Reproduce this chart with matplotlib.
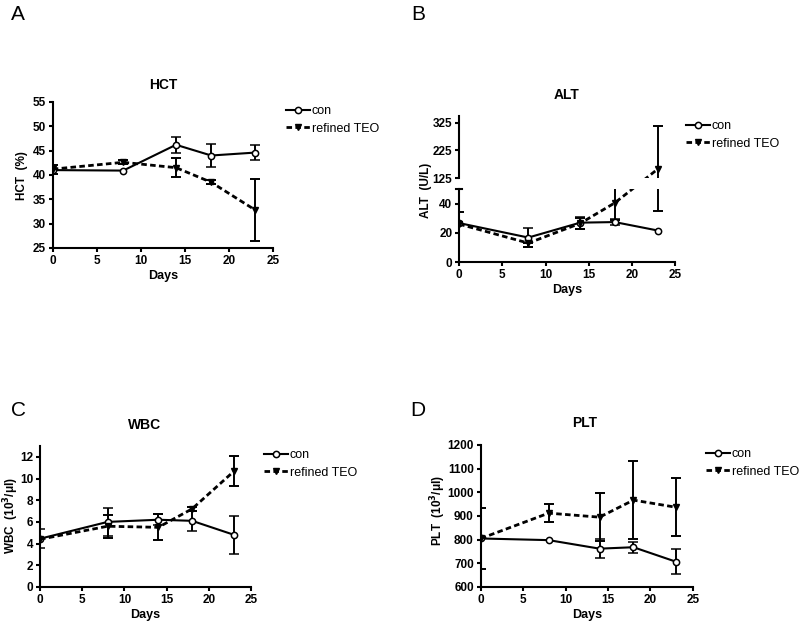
import numpy as np
import matplotlib
matplotlib.use('Agg')
import matplotlib.pyplot as plt
from matplotlib.lines import Line2D

plt.rcParams['font.family'] = ['Liberation Sans', 'DejaVu Sans']
plt.rcParams['font.size'] = 9

days = [0, 8, 14, 18, 23]
nan = np.nan

hct_con     = [41.0, 40.9, 46.2, 44.0, 44.6]
hct_con_err = [nan, nan, 1.6, 2.3, 1.6]
hct_teo     = [41.2, 42.6, 41.5, 38.5, 32.8]
hct_teo_err = [0.9, 0.4, 2.0, 0.4, 6.4]

alt_con     = [26.7, 16.8, 27.0, 27.4, 21.6]
alt_con_err = [nan, 6.5, 4.2, 2.0, nan]
alt_teo     = [26.0, 13.0, 26.5, 40.5, 158.0]
alt_teo_lo  = [0, 3.0, 4.0, 12.0, 123.0]
alt_teo_hi  = [8.0, 0, 4.0, 10.0, 156.0]

wbc_con     = [4.45, 6.0, 6.2, 6.1, 4.8]
wbc_con_err = [0.9, 1.3, 0.5, 0.9, 1.75]
wbc_teo     = [4.4, 5.6, 5.5, 7.2, 10.7]
wbc_teo_err = [nan, 1.05, 1.2, 0.2, 1.4]

plt_con     = [805, 798, 762, 768, 707]
plt_con_err = [nan, nan, 40, 23, 53]
plt_teo     = [805, 912, 895, 967, 937]
plt_teo_err = [128, 38, 101, 165, 123]

DASH = (0, (2.0, 1.2))
fig = plt.figure(figsize=(8, 6.24), dpi=100)


def style(ax, bottom=True):
    for s in ['top', 'right']:
        ax.spines[s].set_visible(False)
    ax.spines['left'].set_linewidth(1.5)
    ax.spines['bottom'].set_linewidth(1.5)
    ax.tick_params(width=1.5, length=3, pad=2, labelsize=8.5)
    for lab in ax.get_xticklabels() + ax.get_yticklabels():
        lab.set_fontweight('bold')
    if not bottom:
        ax.spines['bottom'].set_visible(False)
        ax.tick_params(axis='x', bottom=False, labelbottom=False)


def draw(ax, con, con_err, teo, teo_err, teo_line=True):
    ax.errorbar(days, con, yerr=con_err, color='black', lw=1.5, marker='o', ms=4.5,
                mfc='white', mec='black', mew=1.1, capsize=3.5, capthick=1.4,
                elinewidth=1.4)
    ax.errorbar(days, teo, yerr=teo_err, color='black', lw=2.0,
                ls=DASH if teo_line else 'none',
                marker='v', ms=5, mfc='black', mec='black', capsize=3.5, capthick=1.4,
                elinewidth=1.4)
    ax.set_xlim(0, 25)
    ax.set_xticks([0, 5, 10, 15, 20, 25])


def legend(x, y):
    h = [Line2D([], [], color='black', lw=1.5, marker='o', ms=4.5, mfc='white', mew=1.1),
         Line2D([], [], color='black', lw=2.0, ls=DASH, marker='v', ms=5)]
    fig.legend(h, ['con', 'refined TEO'], loc='upper left', bbox_to_anchor=(x, y),
               frameon=False, handlelength=1.9, handletextpad=0.15, labelspacing=0.45,
               fontsize=9, borderaxespad=0, borderpad=0)


def ylab(text, x, y):
    fig.text(x / 800, 1 - y / 624, text, rotation=90, ha='center', va='center',
             fontsize=8.5, fontweight='bold')


def title(text, x, y):
    fig.text(x / 800, 1 - y / 624, text, ha='center', va='center', fontsize=10,
             fontweight='bold')


# A: HCT
axA = fig.add_axes([0.066, 0.6026, 0.275, 0.234])
draw(axA, hct_con, hct_con_err, hct_teo, hct_teo_err)
axA.set_ylim(25, 55)
axA.set_yticks(range(25, 56, 5))
axA.set_xlabel('Days', fontweight='bold', labelpad=2)
style(axA)
ylab('HCT  (%)', 22, 176)
title('HCT', 163, 85)
legend(286 / 800, 1 - 105 / 624)

# B: ALT (broken axis)
axB = fig.add_axes([0.574, 0.580, 0.27, 0.117])
axBu = fig.add_axes([0.574, 0.7147, 0.27, 0.0994])
brk = 50
for ax in (axB, axBu):
    draw(ax, alt_con, alt_con_err, alt_teo, [alt_teo_lo, alt_teo_hi], teo_line=False)
axB.set_ylim(0, brk)
axB.set_yticks([0, 20, 40])
axBu.set_ylim(125, 350)
axBu.set_yticks([125, 225, 325])
# dashed TEO line drawn straight across the break in screen space
disp = np.array([(axBu if v > brk else axB).transData.transform((d, v))
                 for d, v in zip(days, alt_teo)])
for ax in (axB, axBu):
    p = ax.transData.inverted().transform(disp)
    ax.plot(p[:, 0], p[:, 1], color='black', lw=2.0, ls=DASH)
axB.set_xlabel('Days', fontweight='bold', labelpad=2)
style(axB)
style(axBu, bottom=False)
axB.plot([-0.35, 0.35], [brk, brk], color='black', lw=1.5, clip_on=False)
ylab('ALT  (U/L)', 426, 190)
title('ALT', 567, 95)
legend(686 / 800, 1 - 120 / 624)

# C: WBC
axC = fig.add_axes([0.05, 0.0593, 0.264, 0.226])
draw(axC, wbc_con, wbc_con_err, wbc_teo, wbc_teo_err)
axC.set_ylim(0, 13)
axC.set_yticks(range(0, 13, 2))
axC.set_xlabel('Days', fontweight='bold', labelpad=2)
style(axC)
ylab('WBC  (10$^{\\mathbf{3}}$/μl)', 11, 516)
title('WBC', 145, 425)
legend(264 / 800, 1 - 449 / 624)

# D: PLT
axD = fig.add_axes([0.601, 0.0593, 0.265, 0.2276])
draw(axD, plt_con, plt_con_err, plt_teo, plt_teo_err)
axD.set_ylim(600, 1200)
axD.set_yticks(range(600, 1201, 100))
axD.set_xlabel('Days', fontweight='bold', labelpad=2)
style(axD)
ylab('PLT  (10$^{\\mathbf{3}}$/μl)', 438, 511)
title('PLT', 585, 423)
legend(706 / 800, 1 - 448 / 624)

for lab, x, y in [('A', 18, 15), ('B', 418, 15), ('C', 18, 410), ('D', 418, 410)]:
    fig.text(x / 800, 1 - y / 624, lab, ha='center', va='center', fontsize=15)

fig.savefig('out.png', dpi=100)
